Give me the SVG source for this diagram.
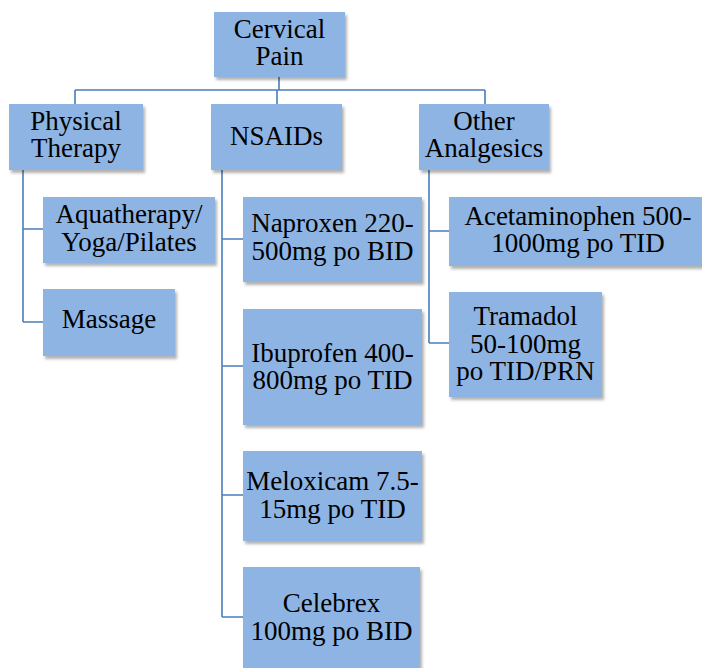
<svg xmlns="http://www.w3.org/2000/svg" width="702" height="668" viewBox="0 0 702 668">
<defs>
<filter id="sh" x="-10%" y="-10%" width="125%" height="130%">
<feDropShadow dx="2" dy="3" stdDeviation="1.5" flood-color="#000" flood-opacity="0.3"/>
</filter>
</defs>
<style>
.box{fill:#8EB4E3;filter:url(#sh)}
.t{font-family:"Liberation Serif","DejaVu Serif",serif;font-size:27px;fill:#000;text-anchor:middle}
.c{fill:none;stroke:#4A7EBB;stroke-width:1.6}
</style>
<rect width="702" height="668" fill="#fff"/>
<g id="connectors">
<path class="c" d="M279 77V90M75 90H485M75 90V104M277 90V104M485 90V104"/>
<path class="c" d="M23 170V322M23 229H43M23 322H43"/>
<path class="c" d="M222 170V617M222 239H243M222 366H243M222 495H243M222 617H243"/>
<path class="c" d="M429 170V343M429 231H449M429 343H449"/>
</g>
<g id="cervical"><rect class="box" x="214" y="12" width="131" height="65"/><text class="t" x="279.5" y="38">Cervical</text><text class="t" x="279.5" y="65">Pain</text></g>
<g id="pt"><rect class="box" x="9" y="104" width="134" height="66"/><text class="t" x="76" y="130">Physical</text><text class="t" x="76" y="157">Therapy</text></g>
<g id="nsaids"><rect class="box" x="211" y="104" width="131" height="66"/><text class="t" x="276.5" y="145">NSAIDs</text></g>
<g id="other"><rect class="box" x="419" y="104" width="130" height="66"/><text class="t" x="484" y="130">Other</text><text class="t" x="484" y="157">Analgesics</text></g>
<g id="aqua"><rect class="box" x="43" y="197" width="172" height="66"/><text class="t" x="129" y="223">Aquatherapy/</text><text class="t" x="129" y="251">Yoga/Pilates</text></g>
<g id="massage"><rect class="box" x="43" y="289" width="132" height="67"/><text class="t" x="109" y="328">Massage</text></g>
<g id="naproxen"><rect class="box" x="243" y="197" width="179" height="85"/><text class="t" x="332.5" y="232">Naproxen 220-</text><text class="t" x="332.5" y="260">500mg po BID</text></g>
<g id="ibuprofen"><rect class="box" x="243" y="309" width="179" height="116"/><text class="t" x="332.5" y="362">Ibuprofen 400-</text><text class="t" x="332.5" y="389">800mg po TID</text></g>
<g id="meloxicam"><rect class="box" x="243" y="451" width="179" height="90"/><text class="t" x="332.5" y="490">Meloxicam 7.5-</text><text class="t" x="332.5" y="518">15mg po TID</text></g>
<g id="celebrex"><rect class="box" x="243" y="567" width="177" height="110"/><text class="t" x="331.5" y="612">Celebrex</text><text class="t" x="331.5" y="640">100mg po BID</text></g>
<g id="acetaminophen"><rect class="box" x="449" y="197" width="256" height="69"/><text class="t" x="578" y="225">Acetaminophen 500-</text><text class="t" x="578" y="252">1000mg po TID</text></g>
<g id="tramadol"><rect class="box" x="449" y="292" width="153" height="105"/><text class="t" x="525.5" y="325">Tramadol</text><text class="t" x="525.5" y="353">50-100mg</text><text class="t" x="525.5" y="380">po TID/PRN</text></g>
</svg>
